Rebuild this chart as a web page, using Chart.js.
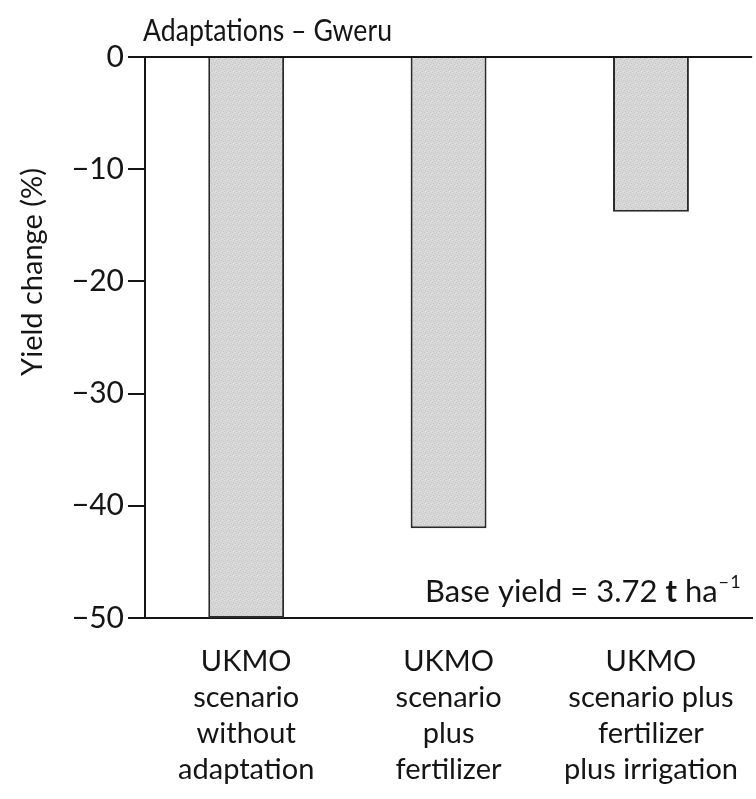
<!DOCTYPE html>
<html>
<head>
<meta charset="utf-8">
<script src="https://cdn.jsdelivr.net/npm/chart.js@4"></script>
<style>
  html, body { margin: 0; padding: 0; background: #fff; }
  #wrap { width: 756px; height: 799px; }
</style>
</head>
<body>
<div id="wrap"><canvas id="chart" width="756" height="799"></canvas></div>
<script>
// ====== DATA ======
const categories = [
  ["UKMO", "scenario", "without", "adaptation"],
  ["UKMO", "scenario", "plus", "fertilizer"],
  ["UKMO", "scenario plus", "fertilizer", "plus irrigation"],
];
const yieldChange = [-50, -42, -13.8];
const yTicks = [0, -10, -20, -30, -40, -50];

const titleText = "Adaptations \u2013 Gweru";
const yTitle = "Yield change (%)";

const FONT = "Lato, 'Open Sans', sans-serif";
const INK = "#151515";

// light grey stipple like the printed bars
function stipple() {
  const c = document.createElement("canvas");
  c.width = 6; c.height = 6;
  const g = c.getContext("2d");
  g.fillStyle = "#d6d6d6";
  g.fillRect(0, 0, 6, 6);
  g.fillStyle = "#c6c6c6";
  [[0, 0], [3, 1], [1, 3], [4, 4], [5, 2], [2, 5]].forEach(([x, y]) => g.fillRect(x, y, 1, 1));
  g.fillStyle = "#e2e2e2";
  [[2, 0], [5, 5], [0, 4], [4, 1]].forEach(([x, y]) => g.fillRect(x, y, 1, 1));
  return g.createPattern(c, "repeat");
}

// title, axis title and note drawn on the canvas
const textPlugin = {
  id: "texts",
  afterDraw(chart) {
    const { ctx, chartArea } = chart;
    ctx.save();
    ctx.fillStyle = INK;
    ctx.textBaseline = "alphabetic";

    // title (a bit condensed, like the original face)
    ctx.save();
    ctx.translate(chartArea.left - 2, 41);
    ctx.scale(0.86, 1);
    ctx.font = `31px ${FONT}`;
    ctx.textAlign = "left";
    ctx.fillText(titleText, 0, 0);
    ctx.restore();

    // y axis title
    ctx.save();
    ctx.translate(42, 272);
    ctx.rotate(-Math.PI / 2);
    ctx.textAlign = "center";
    ctx.font = `29px ${FONT}`;
    ctx.fillText(yTitle, 0, 0);
    ctx.restore();

    // base yield note
    let x = 425, y = 602;
    ctx.textAlign = "left";
    const parts = [
      ["Base yield = 3.72 ", `31px ${FONT}`],
      ["t", `bold 31px ${FONT}`],
      [" ha", `31px ${FONT}`],
    ];
    parts.forEach(([t, f]) => {
      ctx.font = f;
      ctx.fillText(t, x, y);
      x += ctx.measureText(t).width;
    });
    ctx.font = `18px ${FONT}`;
    ctx.fillText("\u2212\u200a1", x + 1, y - 14);
    ctx.restore();
  },
};

const ctx = document.getElementById("chart").getContext("2d");

new Chart(ctx, {
  type: "bar",
  data: {
    labels: categories,
    datasets: [
      {
        data: yieldChange,
        backgroundColor: stipple(),
        borderColor: "#2a2a2a",
        borderWidth: 2,
        barPercentage: 0.75,
        categoryPercentage: 0.5,
      },
    ],
  },
  options: {
    responsive: false,
    animation: false,
    devicePixelRatio: 1,
    layout: { padding: { top: 57, right: 0, left: 0, bottom: 0 } },
    plugins: {
      legend: { display: false },
      tooltip: { enabled: false },
    },
    scales: {
      x: {
        grid: { display: false },
        border: { color: INK, width: 2 },
        ticks: {
          color: INK,
          font: { family: FONT, size: 29, lineHeight: 1.24 },
          padding: 18,
          maxRotation: 0,
          autoSkip: false,
        },
        afterFit(s) { s.height = 181; },
      },
      y: {
        min: -50,
        max: 0,
        afterBuildTicks(s) { s.ticks = yTicks.map((v) => ({ value: v })); },
        grid: {
          color: (c) => (c.tick && c.tick.value === 0 ? INK : "rgba(0,0,0,0)"),
          lineWidth: 2,
          tickColor: INK,
          tickLength: 17,
          drawOnChartArea: true,
        },
        border: { color: INK, width: 2 },
        ticks: {
          color: INK,
          font: { family: FONT, size: 30 },
          padding: 4,
          callback: (v) => (v === 0 ? "0" : "\u2212" + Math.abs(v)),
        },
        afterFit(s) { s.width = 145; },
      },
    },
  },
  plugins: [textPlugin],
});
</script>
</body>
</html>
